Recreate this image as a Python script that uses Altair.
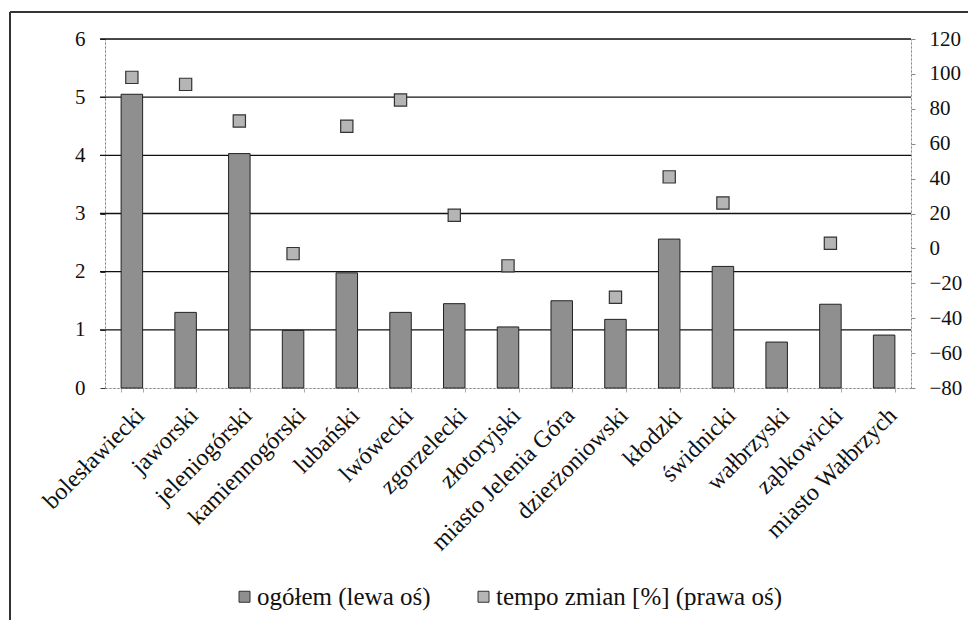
import altair as alt
import pandas as pd

powiaty = ["bolesławiecki", "jaworski", "jeleniogórski", "kamiennogórski", "lubański",
           "lwówecki", "zgorzelecki", "złotoryjski", "miasto Jelenia Góra", "dzierżoniowski",
           "kłodzki", "świdnicki", "wałbrzyski", "ząbkowicki", "miasto Wałbrzych"]
ogolem = [5.05, 1.30, 4.03, 0.99, 1.98, 1.30, 1.45, 1.05, 1.50, 1.18, 2.56, 2.09, 0.79, 1.44, 0.91]
tempo = [98, 94, 73, -3, 70, 85, 19, -10, None, -28, 41, 26, None, 3, None]
left_ticks = [0, 1, 2, 3, 4, 5, 6]
grid_vals = [1, 2, 3, 4, 5, 6]
right_ticks = [-80, -60, -40, -20, 0, 20, 40, 60, 80, 100, 120]
series = ["ogółem (lewa oś)", "tempo zmian [%] (prawa oś)"]

df = pd.DataFrame({"powiat": powiaty, "ogolem": ogolem, "tempo": tempo})
grid_df = pd.DataFrame({"v": grid_vals})

FONT = "Liberation Serif"
W, H = 806, 349

color_scale = alt.Scale(domain=series, range=["#8f8f8f", "#b5b5b5"])
legend = alt.Legend(orient="none", legendX=127, legendY=545, direction="horizontal",
                    symbolType="square", symbolSize=121, symbolStrokeColor="#333",
                    symbolStrokeWidth=1, labelFont=FONT, labelFontSize=25, labelLimit=400,
                    labelOffset=0, labelColor="#111", columnPadding=40, symbolOpacity=1,
                    title=None)

xenc = alt.X("powiat:N", sort=powiaty, title=None,
             scale=alt.Scale(paddingInner=0.6, paddingOuter=0.3),
             axis=alt.Axis(labelAngle=-45, labelFontSize=24, labelFont=FONT, labelColor="#111",
                           domainColor="#888", domainDash=[2, 2], tickBand="extent",
                           tickSize=4, tickColor="#aaa", labelPadding=11, labelLimit=400))

left_axis = alt.Axis(values=left_ticks, orient="left", grid=False, labelFontSize=21,
                     labelFont=FONT, labelColor="#111", domainColor="#888",
                     domainDash=[2, 2], tickSize=5, tickColor="#333", labelPadding=15)

bars = alt.Chart(df).transform_calculate(series=f"'{series[0]}'").mark_bar(
    stroke="#222", strokeWidth=1).encode(
    x=xenc,
    y=alt.Y("ogolem:Q", title=None, scale=alt.Scale(domain=[0, 6], nice=False), axis=left_axis),
    color=alt.Color("series:N", scale=color_scale, legend=legend),
)

grid = alt.Chart(grid_df).mark_rule(color="#111", strokeWidth=1.3).encode(
    y=alt.Y("v:Q", title=None, scale=alt.Scale(domain=[0, 6], nice=False), axis=left_axis),
    x=alt.value(-5), x2=alt.value(W),
)

points = alt.Chart(df).transform_filter("isValid(datum.tempo)").transform_calculate(
    series=f"'{series[1]}'").mark_point(
    shape="square", filled=True, size=150, stroke="#333", strokeWidth=1.2, opacity=1
).encode(
    x=alt.X("powiat:N", sort=powiaty),
    y=alt.Y("tempo:Q", title=None,
            scale=alt.Scale(domain=[-80, 120], nice=False),
            axis=alt.Axis(values=right_ticks, orient="right", grid=False, labelFontSize=21,
                          labelFont=FONT, labelColor="#111", domainColor="#888",
                          domainDash=[2, 2], tickSize=4, tickColor="#888", labelPadding=14)),
    color=alt.Color("series:N", scale=color_scale, legend=legend),
)

frame_left = alt.Chart(grid_df).mark_rule(color="#333", strokeWidth=1.2).encode(
    x=alt.value(-95), y=alt.value(-27), y2=alt.value(H + 240))
frame_top = alt.Chart(grid_df).mark_rule(color="#333", strokeWidth=1.2).encode(
    y=alt.value(-27), x=alt.value(-95), x2=alt.value(W + 70))

chart = alt.layer(
    alt.layer(grid, bars).resolve_scale(y="shared"),
    points,
    frame_left, frame_top,
).resolve_scale(y="independent").properties(
    width=W, height=H,
    autosize=alt.AutoSizeParams(type="none"),
    padding={"left": 97, "top": 31, "right": 57, "bottom": 232},
).configure_view(stroke=None).configure(background="white", font=FONT).configure_legend(
    labelFont=FONT, labelFontSize=25, labelLimit=400
).configure_axis(labelFont=FONT)

chart.save("out.html", embed_options={"renderer": "svg", "actions": False})
